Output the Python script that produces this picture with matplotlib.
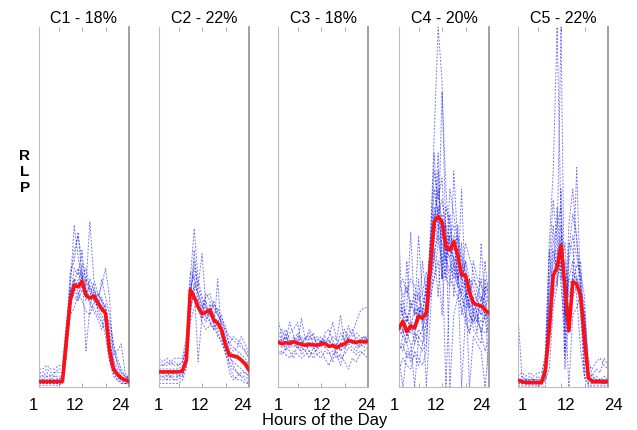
import numpy as np
import matplotlib
matplotlib.use("Agg")
import matplotlib.pyplot as plt

# ---- data -------------------------------------------------------------
hours = list(range(1, 25))
titles = ["C1 - 18%", "C2 - 22%", "C3 - 18%", "C4 - 20%", "C5 - 22%"]
tick_labels = ["1", "12", "24"]

# cluster means (red)
c1_mean = [1.5, 1.5, 1.5, 1.5, 1.5, 1.5, 1.6, 13, 24, 28.3, 27.8, 29.4,
           25.5, 24.7, 25.3, 23.6, 21.7, 20.5, 10.3, 5, 3.6, 2.5, 2, 1.5]
c2_mean = [4.2, 4.2, 4.2, 4.2, 4.2, 4.2, 4.5, 7.5, 27, 25, 22.2, 20.3,
           20.8, 21.4, 18.6, 17.8, 15.8, 11.7, 8.9, 8.6, 8.3, 7.5, 6.4, 4.7]
c3_mean = [12.5, 12.0, 12.3, 12.1, 12.6, 12.2, 11.8, 11.6, 11.9, 11.7, 11.6, 11.9,
           12.1, 11.3, 11.5, 10.9, 11.6, 12.0, 12.9, 12.6, 12.4, 12.7, 12.5, 12.7]
c4_mean = [16.3, 18.3, 15.4, 17, 16.4, 19.7, 19.1, 20.6, 33.4, 45.8, 47.3, 45.9,
           39, 38, 40.4, 36.7, 31.1, 31.1, 26.4, 23.3, 22.8, 22.5, 21.4, 20.5]
c5_mean = [1.9, 1.5, 1.2, 1.2, 1.2, 1.2, 1.2, 4.7, 15.8, 31, 33.3, 39.4,
           27.8, 15.6, 29.2, 28.6, 25.3, 13, 2.5, 1.5, 1.5, 1.5, 1.5, 1.5]

# individual profiles (blue dashed)
c1_profiles = [
    [2, 2, 2, 2, 2, 2, 3, 15, 30, 38, 42, 35, 30, 28, 26, 24, 22, 20, 12, 5, 3, 2, 2, 2],
    [4, 4, 5, 4, 4, 5, 5, 10, 28, 45, 36, 30, 33, 27, 25, 22, 20, 18, 8, 4, 3, 3, 2, 3],
    [1, 1, 1, 1, 1, 1, 2, 12, 25, 26, 30, 32, 28, 46, 30, 26, 24, 22, 15, 6, 4, 2, 1, 1],
    [0.5, 0.5, 0.5, 0.5, 0.5, 0.5, 1, 8, 22, 30, 28, 34, 10, 22, 27, 25, 28, 33, 25, 8, 3, 1, 1, 0.5],
    [3, 3, 3, 3, 3, 3, 3, 14, 27, 25, 24, 27, 25, 24, 22, 20, 18, 16, 10, 9, 10, 12, 4, 2],
    [2, 1, 2, 1, 2, 1, 2, 10, 20, 22, 26, 24, 21, 20, 23, 26, 24, 20, 18, 12, 8, 5, 3, 2],
    [1, 1, 1, 1, 1, 1, 1, 16, 32, 35, 43, 30, 27, 23, 21, 19, 16, 20, 8, 3, 2, 1, 1, 1],
    [5, 5, 6, 5, 5, 6, 6, 18, 26, 30, 26, 28, 26, 28, 24, 22, 30, 25, 20, 12, 6, 4, 3, 3],
    [3, 2, 3, 2, 3, 2, 3, 11, 24, 33, 31, 38, 27, 25, 29, 21, 19, 14, 7, 4, 2, 2, 1, 1],
    [1, 2, 1, 2, 1, 2, 1, 9, 27, 29, 33, 28, 30, 26, 24, 23, 25, 21, 13, 7, 5, 3, 2, 1],
    [4, 3, 4, 3, 4, 4, 4, 13, 23, 28, 24, 31, 24, 30, 27, 24, 21, 23, 16, 10, 7, 4, 3, 2],
]
c2_profiles = [
    [3, 3, 3, 3, 3, 3, 4, 8, 30, 44, 30, 25, 22, 20, 18, 15, 12, 10, 8, 7, 6, 5, 4, 3],
    [6, 6, 6, 7, 6, 6, 7, 10, 25, 35, 28, 37, 22, 20, 24, 20, 18, 14, 10, 9, 9, 8, 7, 6],
    [2, 2, 2, 2, 2, 2, 3, 6, 20, 28, 7, 20, 24, 18, 16, 30, 14, 12, 6, 3, 2, 2, 1, 1],
    [5, 5, 5, 5, 5, 5, 6, 12, 32, 30, 26, 22, 25, 26, 22, 20, 18, 16, 14, 13, 12, 11, 10, 8],
    [1, 1, 1, 1, 1, 1, 2, 5, 18, 22, 24, 20, 18, 22, 20, 18, 16, 12, 9, 6, 4, 3, 2, 1],
    [8, 7, 8, 7, 8, 8, 8, 14, 26, 33, 28, 24, 20, 18, 16, 18, 20, 15, 12, 14, 13, 12, 10, 8],
    [4, 4, 3, 4, 4, 3, 4, 9, 22, 26, 22, 18, 16, 17, 19, 16, 14, 10, 4, 2, 3, 4, 4, 3],
    [3, 4, 4, 3, 4, 4, 5, 7, 24, 38, 25, 21, 26, 24, 20, 22, 19, 17, 11, 10, 11, 14, 12, 9],
    [2, 3, 2, 3, 2, 3, 3, 8, 28, 31, 23, 19, 21, 23, 17, 14, 13, 9, 7, 5, 4, 3, 3, 2],
    [7, 6, 7, 6, 7, 6, 7, 11, 21, 29, 26, 23, 19, 21, 23, 21, 17, 13, 12, 11, 10, 9, 8, 6],
]
c3_profiles = [
    [14, 16, 13, 18, 14, 12, 19, 13, 15, 12, 11, 13, 12, 14, 18, 13, 20, 12, 14, 13, 12, 11, 13, 12],
    [10, 9, 11, 10, 8, 12, 9, 10, 8, 11, 9, 10, 8, 6, 9, 10, 8, 9, 11, 10, 9, 10, 9, 8],
    [19, 14, 12, 15, 16, 18, 12, 14, 13, 15, 12, 11, 14, 13, 12, 11, 15, 13, 17, 14, 15, 14, 13, 15],
    [12, 12, 11, 13, 12, 11, 11, 10, 12, 11, 10, 12, 13, 11, 12, 9, 6, 10, 14, 15, 18, 21, 22, 22],
    [11, 13, 10, 12, 14, 11, 10, 12, 10, 9, 11, 13, 11, 10, 7, 12, 10, 11, 12, 11, 10, 12, 11, 13],
    [13, 11, 15, 11, 13, 15, 13, 11, 14, 13, 14, 12, 15, 16, 13, 11, 12, 16, 13, 12, 14, 13, 14, 12],
    [9, 10, 9, 8, 10, 9, 8, 9, 10, 8, 9, 8, 10, 9, 10, 8, 9, 7, 5, 8, 7, 9, 10, 11],
    [15, 13, 14, 12, 11, 13, 14, 12, 11, 12, 13, 14, 12, 13, 11, 12, 10, 13, 15, 16, 12, 13, 12, 14],
    [12, 14, 16, 13, 12, 14, 12, 13, 16, 14, 12, 13, 11, 12, 14, 13, 12, 11, 12, 13, 11, 12, 14, 13],
]
c4_profiles = [
    [42, 15, 35, 18, 12, 30, 16, 20, 40, 70, 100, 85, 40, 35, 30, 45, 25, 20, 18, 25, 20, 15, 20, 18],
    [10, 12, 8, 10, 15, 12, 10, 12, 30, 45, 55, 45, 30, 28, 60, 40, 30, 20, 15, 20, 25, 30, 18, 15],
    [25, 20, 22, 43, 20, 42, 25, 22, 35, 50, 45, 30, 50, 45, 35, 30, 55, 25, 30, 28, 24, 20, 22, 25],
    [15, 18, 14, 16, 18, 20, 22, 0, 20, 38, 42, 40, 35, 42, 25, 38, 30, 35, 20, 18, 20, 15, 10, 14],
    [5, 8, 6, 5, 10, 8, 6, 10, 35, 40, 60, 30, 45, 0, 20, 25, 28, 35, 30, 20, 15, 40, 22, 18],
    [22, 20, 18, 24, 20, 22, 20, 30, 30, 35, 45, 48, 38, 36, 40, 32, 0, 20, 25, 30, 28, 25, 24, 0],
    [12, 10, 15, 12, 0, 14, 12, 18, 28, 30, 40, 82, 55, 38, 36, 30, 25, 22, 30, 20, 18, 16, 15, 16],
    [18, 22, 20, 16, 22, 18, 35, 25, 40, 65, 45, 42, 38, 42, 45, 35, 30, 28, 20, 18, 22, 20, 35, 22],
    [14, 16, 12, 18, 15, 14, 16, 22, 30, 38, 25, 45, 35, 30, 28, 25, 22, 18, 15, 22, 18, 25, 20, 20],
    [30, 25, 28, 22, 24, 26, 20, 28, 33, 45, 65, 30, 33, 55, 48, 40, 35, 28, 22, 24, 20, 18, 20, 22],
    [8, 0, 10, 7, 9, 6, 12, 15, 26, 42, 50, 38, 0, 30, 34, 28, 26, 30, 0, 14, 12, 10, 0, 12],
    [20, 24, 18, 22, 26, 20, 24, 26, 38, 55, 48, 52, 44, 40, 38, 42, 36, 32, 28, 26, 24, 22, 26, 24],
    [16, 14, 20, 15, 17, 22, 18, 24, 42, 48, 40, 36, 30, 48, 32, 28, 40, 24, 22, 35, 30, 28, 26, 30],
    [28, 30, 26, 30, 28, 24, 26, 32, 25, 30, 35, 20, 42, 38, 42, 30, 32, 40, 36, 32, 26, 24, 28, 26],
    [10, 14, 12, 8, 12, 16, 14, 18, 36, 60, 52, 58, 36, 32, 36, 34, 20, 26, 24, 16, 14, 12, 30, 10],
]
c5_profiles = [
    [20, 3, 2, 2, 2, 1, 2, 10, 40, 60, 100, 45, 20, 30, 35, 25, 10, 3, 2, 2, 2, 2, 2, 2],
    [1, 1, 1, 1, 1, 1, 1, 3, 25, 35, 40, 100, 10, 40, 38, 30, 20, 2, 1, 1, 1, 1, 1, 1],
    [2, 2, 2, 2, 2, 2, 2, 5, 30, 45, 28, 55, 20, 45, 55, 40, 30, 5, 2, 2, 2, 2, 2, 2],
    [0.5, 0.5, 0.5, 0.5, 0.5, 0.5, 0.5, 2, 20, 28, 50, 30, 35, 25, 30, 61, 25, 3, 0.5, 0.5, 0.5, 0.5, 0.5, 0.5],
    [3, 4, 3, 4, 3, 4, 4, 8, 38, 25, 30, 35, 5, 20, 25, 28, 35, 15, 6, 5, 7, 8, 6, 5],
    [1, 2, 1, 2, 1, 1, 2, 4, 18, 30, 35, 45, 25, 0, 20, 22, 26, 20, 4, 3, 5, 4, 8, 6],
    [2, 1, 2, 1, 2, 2, 1, 2, 5, 22, 28, 40, 30, 18, 32, 30, 24, 20, 8, 3, 2, 1, 2, 1],
    [0, 0, 0, 0, 0, 0, 0, 0, 15, 28, 38, 32, 40, 20, 30, 30, 28, 22, 0, 0, 0, 0, 0, 0],
    [1, 3, 2, 3, 2, 3, 2, 3, 28, 40, 45, 50, 8, 35, 42, 36, 30, 12, 3, 2, 3, 2, 3, 2],
    [2, 2, 1, 2, 2, 1, 2, 6, 22, 38, 32, 42, 18, 30, 28, 34, 32, 25, 5, 2, 1, 2, 1, 2],
    [1, 1, 2, 1, 1, 2, 1, 4, 35, 52, 40, 28, 15, 38, 48, 42, 26, 18, 3, 1, 2, 1, 1, 1],
]

means = [c1_mean, c2_mean, c3_mean, c4_mean, c5_mean]
profiles = [c1_profiles, c2_profiles, c3_profiles, c4_profiles, c5_profiles]

# ---- layout (pixels) --------------------------------------------------
W, H = 637, 430
panel_left = [39, 159, 278, 399, 518]
panel_w = 90
panel_top, panel_bottom = 27, 387
label_x = [[33, 75, 120], [158, 200, 242], [278, 322, 366], [394, 436, 481], [522, 566, 613]]

plt.rcParams["font.family"] = ["Liberation Sans", "DejaVu Sans"]
fig = plt.figure(figsize=(W / 100, H / 100), dpi=100)

for i in range(5):
    ax = fig.add_axes([
        panel_left[i] / W,
        (H - panel_bottom) / H,
        panel_w / W,
        (panel_bottom - panel_top) / H,
    ])
    for prof in profiles[i]:
        ax.plot(hours, prof, color=(0.05, 0.05, 0.95), lw=0.7, ls=(0, (2, 1.5)), alpha=0.55)
    ax.plot(hours, means[i], color="#ff1010", lw=2.6, solid_joinstyle="round", zorder=5)
    ax.set_xlim(1, 24)
    ax.set_ylim(0, 100)
    ax.set_yticks([])
    ax.set_xticks([6, 12, 18])
    ax.set_xticklabels([])
    ax.tick_params(axis="x", direction="in", length=3, width=0.6, colors="#999999",
                   top=True, bottom=True)
    ax.spines["top"].set_visible(False)
    for side in ["left", "bottom"]:
        ax.spines[side].set_color("#bdbdbd")
        ax.spines[side].set_linewidth(0.8)
    ax.spines["right"].set_color("#9a9a9a")
    ax.spines["right"].set_linewidth(1.3)
    ax.set_title(titles[i], fontsize=11.5, pad=3)
    for lab, xp in zip(tick_labels, label_x[i]):
        fig.text(xp / W, 1 - 406 / H, lab, fontsize=12, ha="center", va="center")

fig.text(325 / W, 1 - 421 / H, "Hours of the Day", fontsize=12, ha="center", va="center")
fig.text(25 / W, 1 - 172 / H, "R\nL\nP", fontsize=11, fontweight="bold",
         ha="center", va="center", linespacing=1.2)

fig.savefig("out.png", dpi=100)
